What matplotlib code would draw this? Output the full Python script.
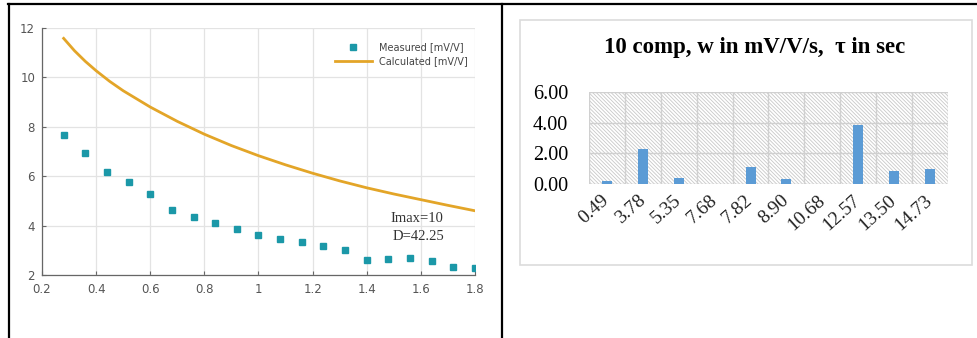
import numpy as np
import matplotlib.pyplot as plt
from matplotlib.lines import Line2D
from matplotlib.patches import Rectangle

# ---- left chart data ----
meas_x = [0.28, 0.36, 0.44, 0.52, 0.60, 0.68, 0.76, 0.84, 0.92, 1.00,
          1.08, 1.16, 1.24, 1.32, 1.40, 1.48, 1.56, 1.64, 1.72, 1.80]
meas_y = [7.65, 6.93, 6.18, 5.77, 5.27, 4.63, 4.35, 4.09, 3.86, 3.61,
          3.46, 3.34, 3.16, 3.01, 2.61, 2.66, 2.70, 2.55, 2.32, 2.28]
calc_x = [0.28, 0.32, 0.36, 0.40, 0.45, 0.50, 0.60, 0.70, 0.80, 0.90,
          1.00, 1.10, 1.20, 1.30, 1.40, 1.50, 1.60, 1.70, 1.80]
calc_y = [11.58, 11.08, 10.65, 10.27, 9.84, 9.46, 8.80, 8.22, 7.70, 7.24,
          6.83, 6.46, 6.12, 5.81, 5.53, 5.28, 5.05, 4.82, 4.60]

# ---- right chart data ----
tau_labels = ['0.49', '3.78', '5.35', '7.68', '7.82', '8.90', '10.68', '12.57', '13.50', '14.73']
w_values = [0.22, 2.30, 0.39, 0.0, 1.09, 0.30, 0.0, 3.87, 0.83, 1.00]

plt.rcParams['hatch.color'] = '#c8c8c8'
plt.rcParams['hatch.linewidth'] = 0.6

W, H = 978, 338
fig = plt.figure(figsize=(W / 100, H / 100), dpi=100)


def fx(px):
    return px / W


def fy(py):
    return 1 - py / H


# table borders
for x0, y0, x1, y1 in [(9, 4, 9, 338), (8, 4, 978, 4), (502, 4, 502, 338)]:
    fig.add_artist(Line2D([fx(x0), fx(x1)], [fy(y0), fy(y1)], color='black', lw=1.6))

# ---------------- left: measured vs calculated ----------------
ax1 = fig.add_axes([fx(42), fy(275), fx(475) - fx(42), fy(28) - fy(275)])
ax1.plot(calc_x, calc_y, color='#e3a528', lw=2, label='Calculated [mV/V]', zorder=3)
ax1.plot(meas_x, meas_y, 's', color='#1b98a8', ms=5, label='Measured [mV/V]', zorder=4)
ax1.set_xlim(0.2, 1.8)
ax1.set_ylim(2, 12)
ax1.set_xticks([0.2, 0.4, 0.6, 0.8, 1, 1.2, 1.4, 1.6, 1.8])
ax1.set_xticklabels(['0.2', '0.4', '0.6', '0.8', '1', '1.2', '1.4', '1.6', '1.8'])
ax1.set_yticks([2, 4, 6, 8, 10, 12])
ax1.grid(True, color='#e3e3e3', lw=0.9)
ax1.set_axisbelow(True)
for s in ['top', 'right']:
    ax1.spines[s].set_visible(False)
for s in ['left', 'bottom']:
    ax1.spines[s].set_color('#666666')
    ax1.spines[s].set_linewidth(0.9)
ax1.tick_params(direction='in', length=3, color='#666666', labelcolor='#555555', labelsize=8.5)
ax1.tick_params(axis='x', pad=6)
ax1.tick_params(axis='y', pad=5)
h, l = ax1.get_legend_handles_labels()
ax1.legend(h[::-1], l[::-1], loc='upper right', bbox_to_anchor=(1.0, 0.97), frameon=False,
           fontsize=7, handlelength=3.8, labelcolor='#444444', borderpad=0.2, labelspacing=0.4)
ax1.text(1.585, 4.27, 'Imax=10', family='Liberation Serif', fontsize=10.5, ha='center', va='center', color='#333333')
ax1.text(1.59, 3.57, 'D=42.25', family='Liberation Serif', fontsize=10.5, ha='center', va='center', color='#333333')

# ---------------- right: bar chart ----------------
fig.add_artist(Rectangle((fx(520), fy(265)), fx(972) - fx(520), fy(20) - fy(265),
                         fill=False, edgecolor='#dcdcdc', lw=1.2))
fig.text(fx(755), fy(48), '10 comp, w in mV/V/s,  \u03c4 in sec', family='Liberation Serif',
         fontsize=16.5, fontweight='bold', ha='center', va='center')

ax2 = fig.add_axes([fx(589), fy(184), fx(948) - fx(589), fy(92) - fy(184)])
pos = np.arange(len(tau_labels))
ax2.add_patch(Rectangle((-0.5, 0), len(tau_labels), 6, facecolor='white', edgecolor='#c8c8c8',
                        hatch='\\' * 9, lw=0, zorder=0))
ax2.bar(pos, w_values, width=0.28, color='#5b9bd5', zorder=3)
ax2.set_xlim(-0.5, len(tau_labels) - 0.5)
ax2.set_ylim(0, 6)
ax2.set_yticks([0, 2, 4, 6])
ax2.set_yticklabels(['0.00', '2.00', '4.00', '6.00'], family='Liberation Serif', fontsize=14.5)
for v in [2, 4, 6]:
    ax2.axhline(v, color='#d0d0d0', lw=1, zorder=1)
for b in np.arange(-0.5, len(tau_labels), 1.0):
    ax2.axvline(b, color='#d0d0d0', lw=1, zorder=1)
ax2.axhline(0, color='#d0d0d0', lw=1, zorder=2)
ax2.set_xticks(pos)
ax2.set_xticklabels(tau_labels, family='Liberation Serif', fontsize=14, rotation=42,
                    ha='right', va='center', rotation_mode='anchor', color='#222222')
for s in ax2.spines.values():
    s.set_visible(False)
ax2.tick_params(axis='y', length=0, pad=15)
ax2.tick_params(axis='x', length=0, pad=10)

fig.savefig('out.png', dpi=100)
